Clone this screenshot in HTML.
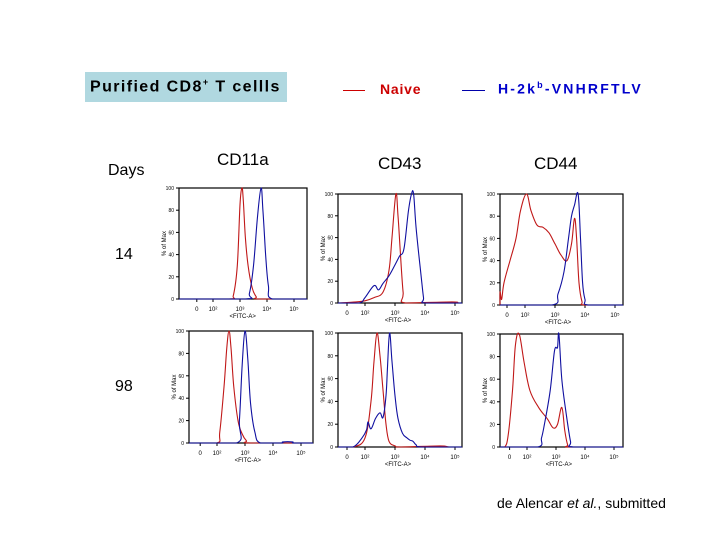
<!DOCTYPE html>
<html><head><meta charset="utf-8"><style>
body{margin:0;background:#fff;}
#root{position:relative;width:720px;height:540px;overflow:hidden;background:#fff;font-family:"Liberation Sans",sans-serif;}
.t{position:absolute;white-space:nowrap;}
</style></head><body>
<div id="root">
<div class="t" style="left:85px;top:72px;width:202px;height:30px;background:#b0d8e0;"></div>
<div class="t" style="left:90px;top:77px;font-size:16px;font-weight:bold;color:#000;letter-spacing:1.4px;">Purified CD8<sup style="font-size:9px">+</sup> T cellls</div>
<div style="position:absolute;left:343px;top:90px;width:22px;height:1px;background:#c00;"></div>
<div class="t" style="left:380px;top:81px;font-size:14px;font-weight:bold;color:#c00;letter-spacing:0.8px;">Naive</div>
<div style="position:absolute;left:462px;top:90px;width:23px;height:1px;background:#00a;"></div>
<div class="t" style="left:498px;top:80px;font-size:14px;font-weight:bold;color:#00c;letter-spacing:2.2px;">H-2k<sup style="font-size:9px">b</sup>-VNHRFTLV</div>
<div class="t" style="left:108px;top:162px;font-size:16px;">Days</div>
<div class="t" style="left:115px;top:246px;font-size:16px;">14</div>
<div class="t" style="left:115px;top:378px;font-size:16px;">98</div>
<div class="t" style="left:217px;top:150px;font-size:17px;">CD11a</div>
<div class="t" style="left:378px;top:154px;font-size:17px;">CD43</div>
<div class="t" style="left:534px;top:154px;font-size:17px;">CD44</div>
<div class="t" style="left:497px;top:495px;font-size:14px;">de Alencar <i>et al.</i>, submitted</div>
<svg id="svg" width="720" height="540" style="position:absolute;left:0;top:0"></svg>
</div>
<script>
// data in log10 units (x) and % of max (y)
const cd11aD14RedX=[2.6,2.75,2.9,3.0,3.07,3.12,3.2,3.3,3.45,3.6,3.7];
const cd11aD14RedY=[0,3,30,85,100,90,55,30,10,2,0];
const cd11aD14BlueX=[3.2,3.35,3.5,3.65,3.78,3.85,3.95,4.05,4.2];
const cd11aD14BlueY=[0,5,30,75,100,80,40,12,0];
const cd11aD98RedX=[2.0,2.1,2.25,2.35,2.43,2.5,2.6,2.75,2.9,3.05,3.2];
const cd11aD98RedY=[0,10,50,85,100,85,50,20,8,2,0];
const cd11aD98BlueX=[2.7,2.8,2.9,3.0,3.1,3.2,3.35,3.55,4.3,4.35,4.7,4.75];
const cd11aD98BlueY=[0,20,70,100,75,35,10,0,0,1,1,0];
const cd43D14RedX=[1.7,2.0,2.3,2.6,2.8,2.9,3.03,3.1,3.17,3.27,3.35,4.9,5.1];
const cd43D14RedY=[1,2,5,10,30,60,100,80,50,10,0,1,0];
const cd43D14BlueX=[1.8,2.0,2.3,2.45,2.6,2.8,3.0,3.15,3.3,3.45,3.55,3.62,3.7,3.85,3.95,4.0];
const cd43D14BlueY=[0,5,16,12,18,25,35,43,50,85,100,100,70,30,5,0];
const cd43D98RedX=[1.6,2.0,2.2,2.3,2.4,2.5,2.6,2.7,2.8,3.0,3.2,4.5,4.8];
const cd43D98RedY=[0,8,40,75,100,80,50,20,5,1,0,1,0];
const cd43D98BlueX=[1.6,1.9,2.05,2.1,2.2,2.35,2.5,2.6,2.7,2.75,2.82,2.9,3.0,3.1,3.25,3.4,3.5,3.6,3.7,3.9];
const cd43D98BlueY=[0,8,15,22,16,25,30,26,45,70,100,75,45,25,12,8,6,5,2,0];
const cd44D14RedX=[1.17,1.22,1.3,1.5,1.7,1.85,2.05,2.2,2.4,2.6,2.8,3.0,3.2,3.4,3.55,3.65,3.72,3.8,3.9,4.0];
const cd44D14RedY=[12,5,20,40,60,85,100,85,72,70,65,55,45,40,55,78,60,20,3,0];
const cd44D14BlueX=[2.9,3.1,3.3,3.45,3.55,3.65,3.77,3.85,3.92,4.0,4.1];
const cd44D14BlueY=[0,10,30,60,80,90,100,60,20,5,0];
const cd44D98RedX=[1.23,1.35,1.5,1.6,1.73,1.9,2.1,2.4,2.7,2.9,3.05,3.2,3.3,3.4,3.5];
const cd44D98RedY=[0,10,50,90,100,75,50,35,25,17,20,35,15,2,0];
const cd44D98BlueX=[2.37,2.5,2.6,2.8,2.95,3.05,3.1,3.2,3.35,3.5,3.6];
const cd44D98BlueY=[0,8,20,50,85,88,100,60,30,5,0];
const yTicks=[0,20,40,60,80,100];
const yTickLabels=["0","20","40","60","80","100"];
const xTickVals=[1.4,2,3,4,5];
const xTickLabels=["0","10\u00b2","10\u00b3","10\u2074","10\u2075"];

const panels=[
 {name:'cd11a-day14',L:179,R:307,T:188,B:299,x3:240,dec:27,red:[cd11aD14RedX,cd11aD14RedY],blue:[cd11aD14BlueX,cd11aD14BlueY]},
 {name:'cd11a-day98',L:189,R:313,T:331,B:443,x3:245,dec:28,red:[cd11aD98RedX,cd11aD98RedY],blue:[cd11aD98BlueX,cd11aD98BlueY]},
 {name:'cd43-day14',L:338,R:462,T:194,B:303,x3:395,dec:30,red:[cd43D14RedX,cd43D14RedY],blue:[cd43D14BlueX,cd43D14BlueY]},
 {name:'cd43-day98',L:338,R:462,T:333,B:447,x3:395,dec:30,red:[cd43D98RedX,cd43D98RedY],blue:[cd43D98BlueX,cd43D98BlueY]},
 {name:'cd44-day14',L:500,R:623,T:194,B:305,x3:555,dec:30,red:[cd44D14RedX,cd44D14RedY],blue:[cd44D14BlueX,cd44D14BlueY]},
 {name:'cd44-day98',L:500,R:623,T:334,B:447,x3:556,dec:29,red:[cd44D98RedX,cd44D98RedY],blue:[cd44D98BlueX,cd44D98BlueY]}
];
const NS='http://www.w3.org/2000/svg';
const svg=document.getElementById('svg');
function mk(tag,attrs,parent){const e=document.createElementNS(NS,tag);for(const k in attrs)e.setAttribute(k,attrs[k]);(parent||svg).appendChild(e);return e;}
function smoothPath(pts,bottom){
 let d='M'+pts[0][0].toFixed(1)+','+pts[0][1].toFixed(1);
 for(let i=0;i<pts.length-1;i++){
  const p0=pts[Math.max(0,i-1)],p1=pts[i],p2=pts[i+1],p3=pts[Math.min(pts.length-1,i+2)];
  const t=0.18;
  let c1x=p1[0]+(p2[0]-p0[0])*t,c1y=Math.min(bottom,p1[1]+(p2[1]-p0[1])*t);
  let c2x=p2[0]-(p3[0]-p1[0])*t,c2y=Math.min(bottom,p2[1]-(p3[1]-p1[1])*t);
  d+=' C'+c1x.toFixed(1)+','+c1y.toFixed(1)+' '+c2x.toFixed(1)+','+c2y.toFixed(1)+' '+p2[0].toFixed(1)+','+p2[1].toFixed(1);
 }
 return d;
}
panels.forEach(p=>{
 const g=mk('g',{});
 
 
 const xs=v=>p.x3+(v-3)*p.dec;
 const ys=v=>p.B-(v/100)*(p.B-p.T);
 const fr=mk('rect',{x:p.L,y:p.T,width:p.R-p.L,height:p.B-p.T,fill:'none',stroke:'#000','stroke-width':1.2},g);
 
 
 yTicks.forEach((t,i)=>{
  mk('line',{x1:p.L-3,x2:p.L,y1:ys(t),y2:ys(t),stroke:'#000','stroke-width':1},g);
  const tx=mk('text',{x:p.L-5,y:ys(t)+2,'font-size':5,'text-anchor':'end','font-family':'Liberation Sans'},g);
  tx.textContent=yTickLabels[i];
  
  
 });
 xTickVals.forEach((t,i)=>{
  mk('line',{x1:xs(t),x2:xs(t),y1:p.B,y2:p.B+3,stroke:'#000','stroke-width':1},g);
  const tx=mk('text',{x:xs(t),y:p.B+12,'font-size':6,'text-anchor':'middle','font-family':'Liberation Sans'},g);
  tx.textContent=xTickLabels[i];
  
  
 });
 const xl=mk('text',{x:xs(3.1),y:p.B+19,'font-size':6,'text-anchor':'middle','font-family':'Liberation Sans'},g);
 xl.textContent='<FITC-A>';
 
 
 const yl=mk('text',{x:0,y:0,'font-size':6,'text-anchor':'middle','font-family':'Liberation Sans',transform:`translate(${p.L-13},${(p.T+p.B)/2}) rotate(-90)`},g);
 yl.textContent='% of Max';
 
 
 [['red','#c01818'],['blue','#1010a0']].forEach(([k,c])=>{
  const X=p[k][0],Y=p[k][1];
  let pts=[[p.L,p.B]];
  for(let i=0;i<X.length;i++)pts.push([xs(X[i]),ys(Y[i])]);
  pts.push([p.R,p.B]);
  const pl=mk('path',{d:smoothPath(pts,p.B),fill:'none',stroke:c,'stroke-width':1.1},g);
  
  
 });
});
</script>
</body></html>
